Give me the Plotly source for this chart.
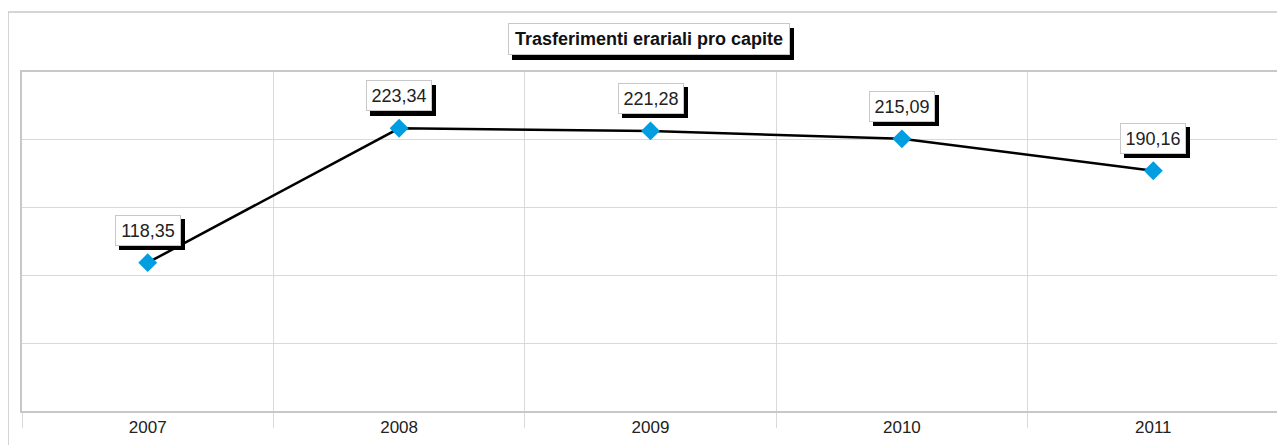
import plotly.graph_objects as go

years = ["2007", "2008", "2009", "2010", "2011"]
values = [118.35, 223.34, 221.28, 215.09, 190.16]
title_text = "Trasferimenti erariali pro capite"

FONT = "Liberation Sans, Arial, sans-serif"
GRID = "#d9d9d9"

# page body has an 8px margin: shift the whole figure accordingly
OFF = 8
W, H = 1285 - OFF, 445 - OFF
L, R, T, B = 22 - OFF, 4, 72 - OFF, 34
PW, PH = W - L - R, H - T - B

fig = go.Figure()
fig.add_trace(go.Scatter(
    x=years, y=values, mode="lines+markers",
    line=dict(color="black", width=2.5),
    marker=dict(symbol="diamond", size=14.5, color="#009ee0", line=dict(width=0)),
    hoverinfo="skip",
))

LBL_W, LBL_H = 58, 23
TTL_W, TTL_H = 274, 24

annotations = []
for i, v in enumerate(values):
    label = f"{v:.2f}".replace(".", ",")
    # shadow box (no text)
    annotations.append(dict(
        x=i, y=v, xref="x", yref="y", text=" ", showarrow=False,
        yanchor="middle", xanchor="center", xshift=4, yshift=32.5 - 4.5,
        width=LBL_W, height=LBL_H,
        bgcolor="black", bordercolor="black", borderwidth=1, borderpad=3,
    ))
    annotations.append(dict(
        x=i, y=v, xref="x", yref="y", text=label, showarrow=False,
        yanchor="middle", xanchor="center", yshift=32.5,
        width=LBL_W, height=LBL_H,
        font=dict(family=FONT, size=18, color="#222222"),
        bgcolor="white", bordercolor="#c8c8c8", borderwidth=1, borderpad=3,
    ))

tx = (650 - 22) / PW
ty = (411 - 39) / PH
annotations.append(dict(
    x=tx, y=ty, xref="paper", yref="paper", text=" ", showarrow=False,
    xanchor="center", yanchor="middle", xshift=4, yshift=-4.5,
    width=TTL_W, height=TTL_H,
    bgcolor="black", bordercolor="black", borderwidth=1, borderpad=3,
))
annotations.append(dict(
    x=tx, y=ty, xref="paper", yref="paper", text=f"<b>{title_text}</b>", showarrow=False,
    xanchor="center", yanchor="middle",
    width=TTL_W, height=TTL_H,
    font=dict(family=FONT, size=18, color="#111111"),
    bgcolor="white", bordercolor="#c8c8c8", borderwidth=1, borderpad=3,
))

fig.update_layout(
    width=W, height=H,
    margin=dict(l=L, r=R, t=T, b=B, pad=0),
    paper_bgcolor="white", plot_bgcolor="white",
    showlegend=False,
    annotations=annotations,
    shapes=[dict(type="rect", xref="paper", yref="paper",
                 x0=(8 - 22) / PW, x1=(1300 - 22) / PW,
                 y0=(411 - 460) / PH, y1=(411 - 12) / PH,
                 line=dict(color="#c8c8c8", width=1.5), layer="below")],
)
fig.update_xaxes(
    type="category", range=[-0.5, 4.5], tickson="boundaries",
    ticks="outside", ticklen=15, tickcolor=GRID, tickwidth=1,
    showgrid=True, gridcolor=GRID, gridwidth=1,
    showline=True, linecolor="#c8c8c8", linewidth=1.5, mirror=True,
    tickfont=dict(family=FONT, size=17, color="#222222"),
    ticklabelstandoff=0,
)
fig.update_yaxes(
    range=[2.5, 267.3], tick0=2.5, dtick=(267.3 - 2.5) / 5,
    showticklabels=False, ticks="",
    showgrid=True, gridcolor=GRID, gridwidth=1, zeroline=False,
    showline=True, linecolor="#c8c8c8", linewidth=1.5, mirror=True,
)

fig.write_html("out.html")
